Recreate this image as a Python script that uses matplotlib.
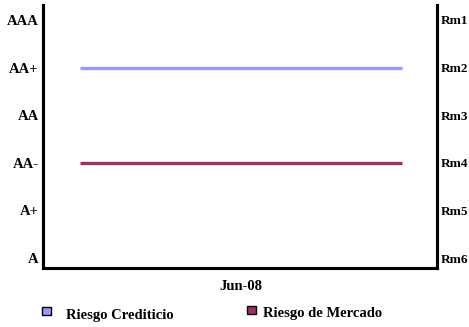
import matplotlib.pyplot as plt
from matplotlib.patches import Rectangle

# rating scale (left) and market-risk scale (right)
credit_ticks = ["A", "A+", "AA-", "AA", "AA+", "AAA"]
market_ticks = ["Rm6", "Rm5", "Rm4", "Rm3", "Rm2", "Rm1"]
periods = ["Jun-08", "Jun-08"]
riesgo_crediticio = [4, 4]   # AA+
riesgo_mercado = [2, 2]      # AA- / Rm4
series_names = ["Riesgo Crediticio", "Riesgo de Mercado"]

blue = "#9999ff"
maroon = "#993366"

plt.rcParams["font.family"] = ["Liberation Serif"]
plt.rcParams["font.weight"] = "bold"
FS = 10.5
W, H = 469, 327

fig = plt.figure(figsize=(W / 100, H / 100), dpi=100)
ax = fig.add_axes([43 / W, 1 - 268 / H, 394 / W, 263 / H])

x = range(len(periods))
ax.plot(x, riesgo_crediticio, color=blue, lw=2.4, solid_capstyle="butt")
ax.plot(x, riesgo_mercado, color=maroon, lw=2.4, solid_capstyle="butt")

ax.set_xlim(-0.115, 1.11)
ax.set_ylim(-0.21, 5.315)
ax.set_yticks(range(len(credit_ticks)))
ax.set_yticklabels(credit_ticks, fontsize=FS, fontweight="bold")
ax.set_xticks([0.5])
ax.set_xticklabels([periods[0]], fontsize=FS, fontweight="bold")
ax.tick_params(axis="both", length=0)
ax.tick_params(axis="y", pad=3)
ax.tick_params(axis="x", pad=9)

ax2 = ax.twinx()
ax2.set_ylim(ax.get_ylim())
ax2.set_yticks(range(len(market_ticks)))
ax2.set_yticklabels(market_ticks, fontsize=9.5, fontweight="bold")
ax2.tick_params(axis="y", length=0, pad=3)

for a in (ax, ax2):
    a.spines["top"].set_visible(False)
    for s in ("left", "right", "bottom"):
        a.spines[s].set_linewidth(2.2)
        a.spines[s].set_color("black")

# legend: square swatch + label, placed in pixel coordinates
legend_items = [
    (blue, series_names[0], (42, 307), (66, 316)),
    (maroon, series_names[1], (247, 306), (263, 314)),
]
for color, name, (sx, sy), (tx, ty) in legend_items:
    fig.add_artist(Rectangle((sx / W, 1 - (sy + 8) / H), 9 / W, 8 / H,
                             transform=fig.transFigure, facecolor=color,
                             edgecolor="black", linewidth=1.0))
    fig.text(tx / W, 1 - ty / H, name, fontsize=FS, fontweight="bold",
             ha="left", va="center")

fig.savefig("out.png", dpi=100)
